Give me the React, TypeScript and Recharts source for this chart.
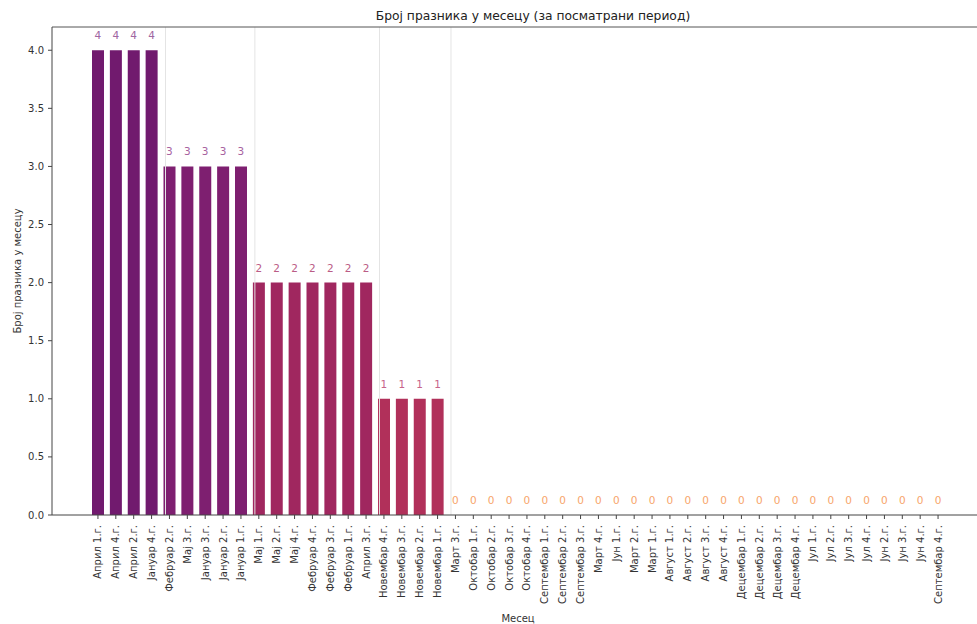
import React from 'react';
import { ComposedChart, Bar, Line, XAxis, YAxis, Cell, LabelList, ReferenceLine } from 'recharts';

const categories = [
  'Април 1.г.', 'Април 4.г.', 'Април 2.г.', 'Јануар 4.г.', 'Фебруар 2.г.', 'Мај 3.г.', 'Јануар 3.г.', 'Јануар 2.г.',
  'Јануар 1.г.', 'Мај 1.г.', 'Мај 2.г.', 'Мај 4.г.', 'Фебруар 4.г.', 'Фебруар 3.г.', 'Фебруар 1.г.', 'Април 3.г.',
  'Новембар 4.г.', 'Новембар 3.г.', 'Новембар 2.г.', 'Новембар 1.г.', 'Март 3.г.', 'Октобар 1.г.', 'Октобар 2.г.',
  'Октобар 3.г.', 'Октобар 4.г.', 'Септембар 1.г.', 'Септембар 2.г.', 'Септембар 3.г.', 'Март 4.г.', 'Јун 1.г.',
  'Март 2.г.', 'Март 1.г.', 'Август 1.г.', 'Август 2.г.', 'Август 3.г.', 'Август 4.г.', 'Децембар 1.г.',
  'Децембар 2.г.', 'Децембар 3.г.', 'Децембар 4.г.', 'Јул 1.г.', 'Јул 2.г.', 'Јул 3.г.', 'Јул 4.г.', 'Јун 2.г.',
  'Јун 3.г.', 'Јун 4.г.', 'Септембар 4.г.',
];

const counts = [
  4, 4, 4, 4, 3, 3, 3, 3, 3, 2, 2, 2, 2, 2, 2, 2, 1, 1, 1, 1,
  0, 0, 0, 0, 0, 0, 0, 0, 0, 0, 0, 0, 0, 0, 0, 0, 0, 0, 0, 0, 0, 0, 0, 0, 0, 0, 0, 0,
];

const yTicks = [0, 0.5, 1, 1.5, 2, 2.5, 3, 3.5, 4];
const yMax = 4.2;
const xDomain = [-2.57, 49.57];
const dividers = [3.78, 8.78, 15.75, 19.75];

const title = 'Број празника у месецу (за посматрани период)';
const xLabel = 'Месец';
const yLabel = 'Број празника у месецу';

const barColors: Record<number, string> = {
  4: '#711a6e',
  3: '#7e1f70',
  2: '#a0275f',
  1: '#b1305a',
  0: '#f99b5c',
};
const labelColors: Record<number, string> = {
  4: '#a066a2',
  3: '#a7629f',
  2: '#bb5c86',
  1: '#c7648a',
  0: '#f7a56b',
};

const data = categories.map((name, i) => ({ idx: i, name, count: counts[i] }));
const xTicks = data.map((d) => d.idx);

const FONT = '"DejaVu Sans", sans-serif';

const XTick = (props: any) => {
  const { x, y, payload } = props;
  return (
    <text
      transform={`translate(${x},${y + 4}) rotate(-90)`}
      textAnchor="end"
      dy="0.35em"
      fontSize={10}
      fill="#333"
      fontFamily={FONT}
    >
      {categories[payload.value]}
    </text>
  );
};

const PointLabel = (props: any) => {
  const { x, y, value } = props;
  if (x == null || y == null) return null;
  return (
    <text x={x} y={y - 11} textAnchor="middle" fontSize={10.5} fill={labelColors[value]} fontFamily={FONT}>
      {value}
    </text>
  );
};

const YLabel = (props: any) => {
  const { viewBox } = props;
  const cx = viewBox.x + 9;
  const cy = viewBox.y + viewBox.height / 2;
  return (
    <text
      x={cx}
      y={cy}
      transform={`rotate(-90, ${cx}, ${cy})`}
      textAnchor="middle"
      dominantBaseline="central"
      fontSize={10}
      fill="#333"
      fontFamily={FONT}
    >
      {yLabel}
    </text>
  );
};

export default function App() {
  return (
    <div
      style={{
        position: 'fixed',
        top: 0,
        left: 0,
        width: 977,
        height: 624,
        overflow: 'hidden',
        background: '#fff',
      }}
    >
      <div
        style={{
          position: 'absolute',
          top: 9,
          left: 283,
          width: 500,
          textAlign: 'center',
          fontFamily: FONT,
          fontSize: 12.3,
          color: '#222',
          lineHeight: '14px',
        }}
      >
        {title}
      </div>
      <ComposedChart
        width={1000}
        height={624}
        data={data}
        margin={{ top: 27, right: 16, left: 8, bottom: 0 }}
        style={{ fontFamily: FONT }}
      >
        <XAxis
          dataKey="idx"
          type="number"
          domain={xDomain}
          ticks={xTicks}
          interval={0}
          allowDataOverflow
          tickSize={4}
          height={109}
          tick={<XTick />}
          axisLine={{ stroke: '#444' }}
          tickLine={{ stroke: '#444' }}
          label={{ value: xLabel, position: 'insideBottom', offset: 2, fontSize: 10, fill: '#333', fontFamily: FONT }}
        />
        <YAxis
          type="number"
          domain={[0, yMax]}
          ticks={yTicks}
          width={44}
          tickSize={4}
          tickMargin={4}
          allowDataOverflow
          tickFormatter={(v: number) => v.toFixed(1)}
          tick={{ fontSize: 10, fill: '#333', fontFamily: FONT }}
          axisLine={{ stroke: '#444' }}
          tickLine={{ stroke: '#444' }}
          label={<YLabel />}
        />
        {dividers.map((d) => (
          <ReferenceLine key={d} x={d} stroke="#e4e4e4" strokeWidth={1} />
        ))}
        <ReferenceLine y={yMax} stroke="#555" strokeWidth={1} />
        <Bar dataKey="count" barSize={12} isAnimationActive={false}>
          {data.map((d) => (
            <Cell key={d.idx} fill={barColors[d.count]} />
          ))}
        </Bar>
        <Line
          dataKey="count"
          stroke="none"
          dot={false}
          activeDot={false}
          legendType="none"
          isAnimationActive={false}
        >
          <LabelList dataKey="count" content={<PointLabel />} />
        </Line>
      </ComposedChart>
    </div>
  );
}
